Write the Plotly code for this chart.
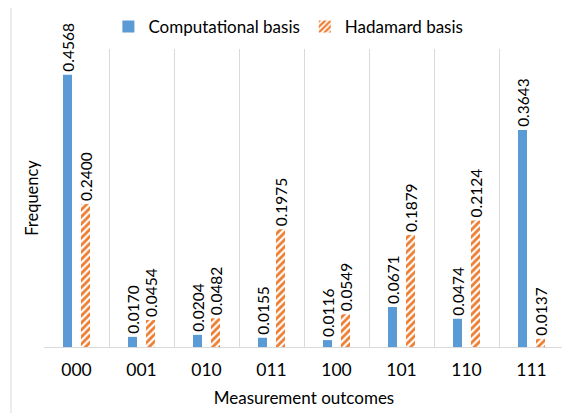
import plotly.graph_objects as go

categories = ["000", "001", "010", "011", "100", "101", "110", "111"]
computational = [0.4568, 0.0170, 0.0204, 0.0155, 0.0116, 0.0671, 0.0474, 0.3643]
hadamard = [0.2400, 0.0454, 0.0482, 0.1975, 0.0549, 0.1879, 0.2124, 0.0137]

FONT = "Lato"
fig = go.Figure()
fig.add_trace(go.Bar(
    x=categories, y=computational, name="Computational basis",
    marker=dict(color="#5B9BD5", line=dict(width=0)),
    texttemplate="%{y:.4f}", textposition="outside", textangle=-90,
    constraintext="none",
    textfont=dict(family=FONT, size=15.5, color="black"), cliponaxis=False,
))
fig.add_trace(go.Bar(
    x=categories, y=hadamard, name="Hadamard basis",
    marker=dict(color="white", line=dict(width=0),
                pattern=dict(shape="/", fgcolor="#ED7D31", bgcolor="white",
                             size=5, solidity=0.55, fillmode="replace")),
    texttemplate="%{y:.4f}", textposition="outside", textangle=-90,
    constraintext="none",
    textfont=dict(family=FONT, size=15.5, color="black"), cliponaxis=False,
))

fig.add_shape(type="rect", xref="paper", yref="paper",
              x0=(11 - 44) / 520, x1=(580 - 44) / 520,
              y0=(347 - 430) / 298, y1=(347 - 7) / 298,
              line=dict(color="#D9D9D9", width=1), fillcolor="rgba(0,0,0,0)", layer="below")

fig.update_layout(
    width=570, height=413,
    margin=dict(l=36, r=14, t=41, b=74, autoexpand=False),
    paper_bgcolor="white", plot_bgcolor="white",
    font=dict(family=FONT, size=16, color="black"),
    barmode="group", bargap=0.446, bargroupgap=0.5,
    showlegend=True,
    legend=dict(orientation="h", x=0.47, xanchor="center", y=1 - 19 / 413, yanchor="middle",
                yref="container", font=dict(family=FONT, size=17), itemwidth=30,
                bgcolor="rgba(0,0,0,0)"),
)
fig.update_xaxes(
    type="category", tickson="boundaries", showgrid=True, gridcolor="#D9D9D9", gridwidth=1,
    showline=True, linecolor="#D9D9D9", linewidth=1, ticks="", ticklabelstandoff=7,
    tickfont=dict(family=FONT, size=17.5), automargin=False,
    title=dict(text="Measurement outcomes", font=dict(family=FONT, size=17), standoff=13),
)
fig.update_yaxes(
    range=[0, 0.5], showgrid=False, showticklabels=False, zeroline=False, showline=False,
    automargin=False,
    title=dict(text="Frequency", font=dict(family=FONT, size=16.5), standoff=0),
)
fig.write_html("out.html")
